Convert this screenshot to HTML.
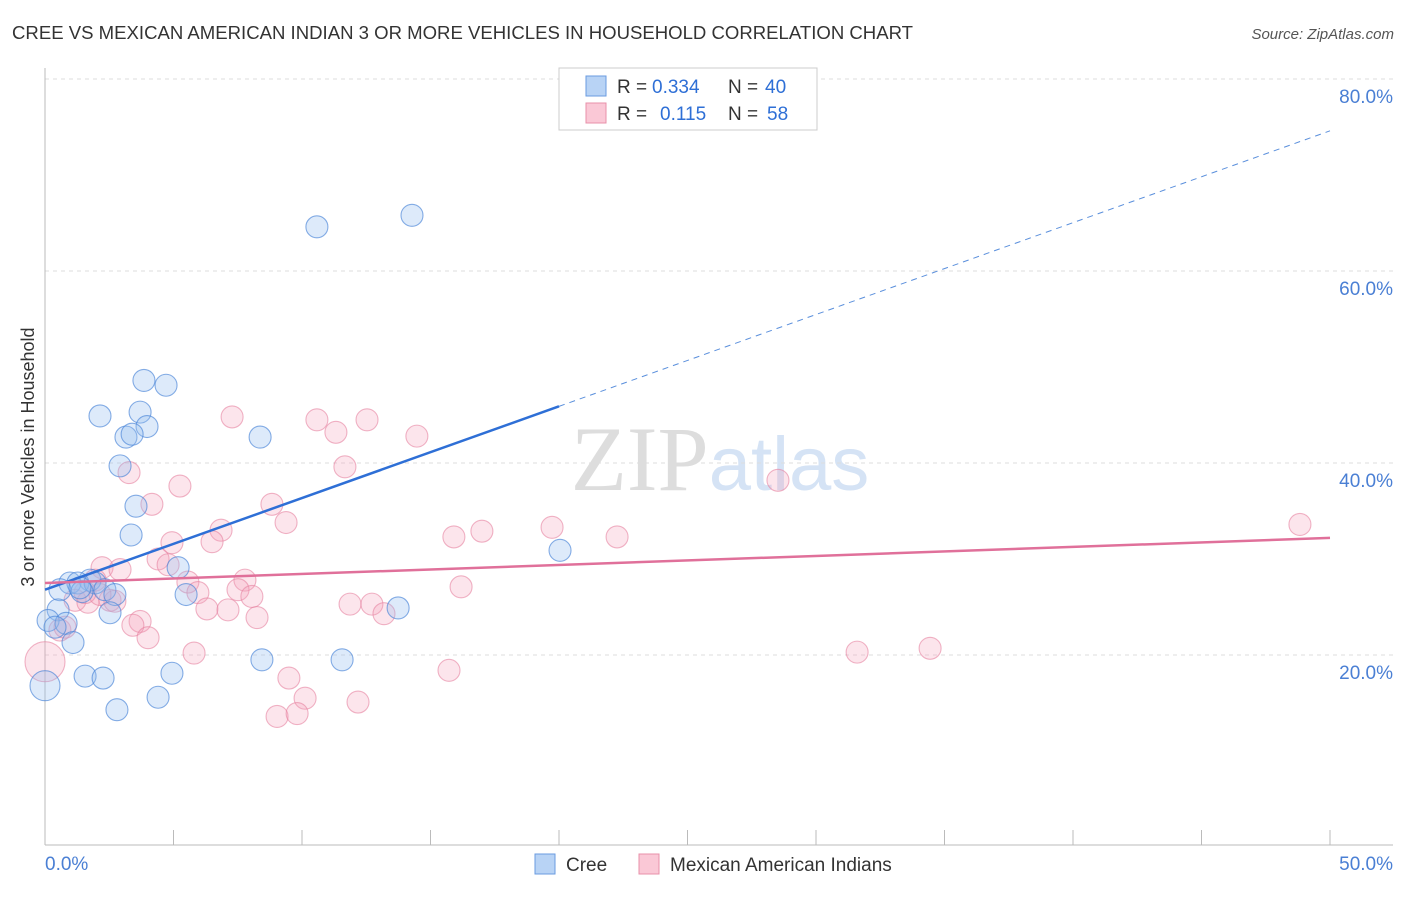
<!DOCTYPE html>
<html><head><meta charset="utf-8"><style>
body{margin:0;background:#fff;font-family:"Liberation Sans",sans-serif}
</style></head><body>
<svg id="chart" width="1406" height="892" xmlns="http://www.w3.org/2000/svg" font-family="Liberation Sans, sans-serif">
<text x="12" y="39" font-size="18" fill="#333" textLength="901" lengthAdjust="spacingAndGlyphs">CREE VS MEXICAN AMERICAN INDIAN 3 OR MORE VEHICLES IN HOUSEHOLD CORRELATION CHART</text>
<text x="1394" y="39" font-size="15" fill="#555" font-style="italic" text-anchor="end">Source: ZipAtlas.com</text>
<text x="720" y="490" font-size="92" text-anchor="middle" fill="#ddd" font-family="Liberation Serif, serif">ZIP<tspan fill="#d5e3f5" font-family="Liberation Sans, sans-serif" font-size="76">atlas</tspan></text>
<g id="grid"></g>
<g id="axes"></g>
<g id="marks"></g>
<text transform="translate(34,457) rotate(-90)" font-size="18" fill="#333" text-anchor="middle">3 or more Vehicles in Household</text>
<g>
<rect x="559" y="68" width="258" height="62" fill="#fff" stroke="#ccc"/>
<rect x="586" y="76" width="20" height="20" fill="#b8d3f5" stroke="#6a9be0"/>
<rect x="586" y="103" width="20" height="20" fill="#fac8d6" stroke="#e890aa"/>
<text x="617" y="93" font-size="19" fill="#333">R =</text>
<text x="652" y="93" font-size="19" fill="#2e6fd6">0.334</text>
<text x="728" y="93" font-size="19" fill="#333">N =</text>
<text x="765" y="93" font-size="19" fill="#2e6fd6">40</text>
<text x="617" y="120" font-size="19" fill="#333">R =</text>
<text x="660" y="120" font-size="19" fill="#2e6fd6">0.115</text>
<text x="728" y="120" font-size="19" fill="#333">N =</text>
<text x="767" y="120" font-size="19" fill="#2e6fd6">58</text>
</g>
<g>
<rect x="535" y="854" width="20" height="20" fill="#b8d3f5" stroke="#6a9be0"/>
<text x="566" y="871" font-size="19" fill="#333">Cree</text>
<rect x="639" y="854" width="20" height="20" fill="#fac8d6" stroke="#e890aa"/>
<text x="670" y="871" font-size="19" fill="#333">Mexican American Indians</text>
</g>
</svg>
<script>
const yTicks=[20,40,60,80];
const yTickLabels=["20.0%","40.0%","60.0%","80.0%"];
const creeX=[10.58,14.28,3.85,4.71,2.14,3.70,3.97,3.15,3.39,8.37,2.92,3.54,3.35,20.04,5.18,1.75,0.97,1.28,1.95,2.33,2.72,5.49,0.58,1.44,2.53,0.51,0.12,0.82,0.39,1.09,13.74,8.44,11.56,1.56,2.26,4.94,0,4.40,2.80,1.36];
const creeY=[64.6,65.8,48.6,48.1,44.9,45.3,43.8,42.7,43.0,42.7,39.7,35.5,32.5,30.9,29.1,27.8,27.5,27.5,27.5,26.8,26.3,26.3,26.8,26.6,24.4,24.7,23.6,23.3,22.9,21.3,24.9,19.5,19.5,17.8,17.6,18.1,16.8,15.6,14.3,27.0];
const mexX=[48.83,28.52,7.28,10.58,12.53,11.32,14.47,11.67,3.27,5.25,4.16,8.83,9.38,19.73,17.00,22.26,15.91,6.85,6.50,4.94,4.40,2.22,2.92,4.79,5.56,1.95,7.78,7.51,5.95,8.05,1.17,1.67,2.53,1.56,6.30,7.12,11.87,12.72,13.19,16.19,8.25,3.70,3.42,0.58,4.01,5.80,31.60,34.44,0,15.72,9.49,10.12,12.18,9.03,9.81,2.72,2.14,0.78];
const mexY=[33.6,38.2,44.8,44.5,44.5,43.2,42.8,39.6,39.0,37.6,35.7,35.7,33.8,33.3,32.9,32.3,32.3,33.0,31.8,31.7,30.0,29.1,28.9,29.4,27.6,27.8,27.8,26.8,26.5,26.1,25.7,25.5,25.7,26.5,24.8,24.7,25.3,25.3,24.3,27.1,23.9,23.5,23.1,22.6,21.8,20.2,20.3,20.7,19.3,18.4,17.6,15.5,15.1,13.6,13.9,25.6,26.3,22.9];
const creeTrend=[[0,26.8],[20,45.9],[50,74.6]];
const mexTrend=[[0,27.5],[50,32.2]];
const NS='http://www.w3.org/2000/svg';
const xs=v=>45+v*25.7, ys=v=>847-v*9.6;
function mk(tag,attrs,parent){const e=document.createElementNS(NS,tag);for(const k in attrs)e.setAttribute(k,attrs[k]);document.getElementById(parent).appendChild(e);return e;}
yTicks.forEach((t,i)=>{
 const g=mk('line',{x1:45,x2:1393,y1:ys(t),y2:ys(t),stroke:'#ddd','stroke-dasharray':'4,4'},'grid');
 
 
 const l=mk('text',{x:1393,y:ys(t)+24,'font-size':19,fill:'#4a7fd4','text-anchor':'end'},'grid');
 l.textContent=yTickLabels[i];
 
 
});
const ax=mk('line',{x1:45,x2:1393,y1:845,y2:845,stroke:'#bbb'},'axes');


const ay=mk('line',{x1:45,x2:45,y1:68,y2:845,stroke:'#bbb'},'axes');


for(let i=0;i<=10;i++){const t=mk('line',{x1:xs(i*5),x2:xs(i*5),y1:830,y2:845,stroke:'#bbb'},'axes');
 
 }
const x0=mk('text',{x:45,y:870,'font-size':19,fill:'#4a7fd4'},'axes');x0.textContent='0.0%';


const x1=mk('text',{x:1393,y:870,'font-size':19,fill:'#4a7fd4','text-anchor':'end'},'axes');x1.textContent='50.0%';


mexX.forEach((x,i)=>{const c=mk('circle',{cx:xs(x),cy:ys(mexY[i]),r:(x===0?20:11),fill:'rgba(245,160,185,0.28)',stroke:'rgba(230,130,160,0.6)','stroke-width':1.1},'marks');
 
 });
creeX.forEach((x,i)=>{const c=mk('circle',{cx:xs(x),cy:ys(creeY[i]),r:(x===0?15:11),fill:'rgba(150,190,240,0.32)',stroke:'rgba(70,130,215,0.65)','stroke-width':1.1},'marks');
 
 });
const bl=mk('line',{x1:xs(creeTrend[0][0]),y1:ys(creeTrend[0][1]),x2:xs(creeTrend[1][0]),y2:ys(creeTrend[1][1]),stroke:'#2e6fd6','stroke-width':2.5},'marks');


const bd=mk('line',{x1:xs(creeTrend[1][0]),y1:ys(creeTrend[1][1]),x2:xs(creeTrend[2][0]),y2:ys(creeTrend[2][1]),stroke:'#5a8fdc','stroke-width':1,'stroke-dasharray':'6,5'},'marks');


const pl=mk('line',{x1:xs(mexTrend[0][0]),y1:ys(mexTrend[0][1]),x2:xs(mexTrend[1][0]),y2:ys(mexTrend[1][1]),stroke:'#e0709a','stroke-width':2.5},'marks');


</script>
</body></html>
